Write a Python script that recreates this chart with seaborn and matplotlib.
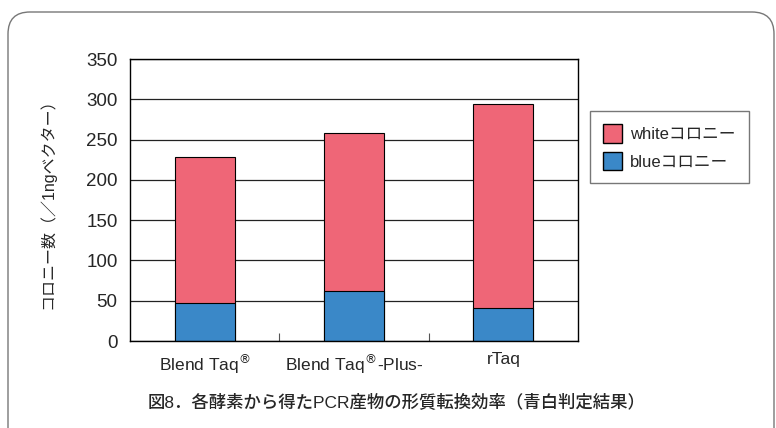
import matplotlib
matplotlib.use("Agg")
import matplotlib.pyplot as plt
from matplotlib.patches import FancyBboxPatch, Patch
from matplotlib.transforms import IdentityTransform
import seaborn as sns
import pandas as pd

# データ
enzymes = ["Blend Taq$^{\\circledR}$", "Blend Taq$^{\\circledR}$-Plus-", "rTaq"]
blue_colonies = [47, 62, 41]
white_colonies = [181, 196, 253]
totals = [b + w for b, w in zip(blue_colonies, white_colonies)]

pink = "#EF6677"
blue = "#3A88C8"

sns.set_theme(style="white")
plt.rcParams["font.family"] = ["Liberation Sans", "Noto Sans CJK JP", "DejaVu Sans"]

df = pd.DataFrame({"enzyme": enzymes, "blue": blue_colonies, "total": totals})

fig = plt.figure(figsize=(7.76, 4.28), dpi=100)
ax = fig.add_axes([130 / 776, 1 - 341 / 428, 448 / 776, 282 / 428])

# 外枠（角丸）ピクセル座標
frame = FancyBboxPatch((8, -30), 766, 446,
                       boxstyle="round,pad=0,rounding_size=22",
                       transform=IdentityTransform(), facecolor="none",
                       edgecolor="#777777", linewidth=1.0)
fig.patches.append(frame)

ax.set_axisbelow(True)
ax.yaxis.grid(True, color="#222222", linewidth=0.9)

sns.barplot(data=df, x="enzyme", y="total", color=pink, width=0.4,
            edgecolor="black", linewidth=0.8, saturation=1, ax=ax)
sns.barplot(data=df, x="enzyme", y="blue", color=blue, width=0.4,
            edgecolor="black", linewidth=0.8, saturation=1, ax=ax)

ax.set_ylim(0, 350)
ax.set_xlim(-0.5, 2.5)
ax.set_yticks(range(0, 351, 50))
ax.set_xlabel("")
ax.set_ylabel("コロニー数（／1ngベクター）", fontsize=11.5, labelpad=22)
ax.tick_params(axis="y", length=0, labelsize=13.5, pad=9)
ax.tick_params(axis="x", length=0, labelsize=12.5, pad=8)
ax.set_xticks([0.5, 1.5], minor=True)
ax.tick_params(axis="x", which="minor", direction="in", length=6, width=0.8,
               color="#555555", bottom=True)
for s in ax.spines.values():
    s.set_color("black")
    s.set_linewidth(1.0)

handles = [Patch(facecolor=pink, edgecolor="black", label="whiteコロニー"),
           Patch(facecolor=blue, edgecolor="black", label="blueコロニー")]
leg = fig.legend(handles=handles, loc="upper left",
                 bbox_to_anchor=(590 / 776, 1 - 111 / 428), fontsize=12,
                 frameon=True, fancybox=False, edgecolor="#555555",
                 handlelength=1.1, handleheight=1.3, borderpad=0.8,
                 labelspacing=0.55, handletextpad=0.5, borderaxespad=0)
leg.get_frame().set_linewidth(1.0)

fig.text(397 / 776, 1 - 402 / 428,
         "図8．各酵素から得たPCR産物の形質転換効率（青白判定結果）",
         ha="center", va="center", fontsize=12.5, fontweight="medium")

fig.savefig("out.png", dpi=100)
